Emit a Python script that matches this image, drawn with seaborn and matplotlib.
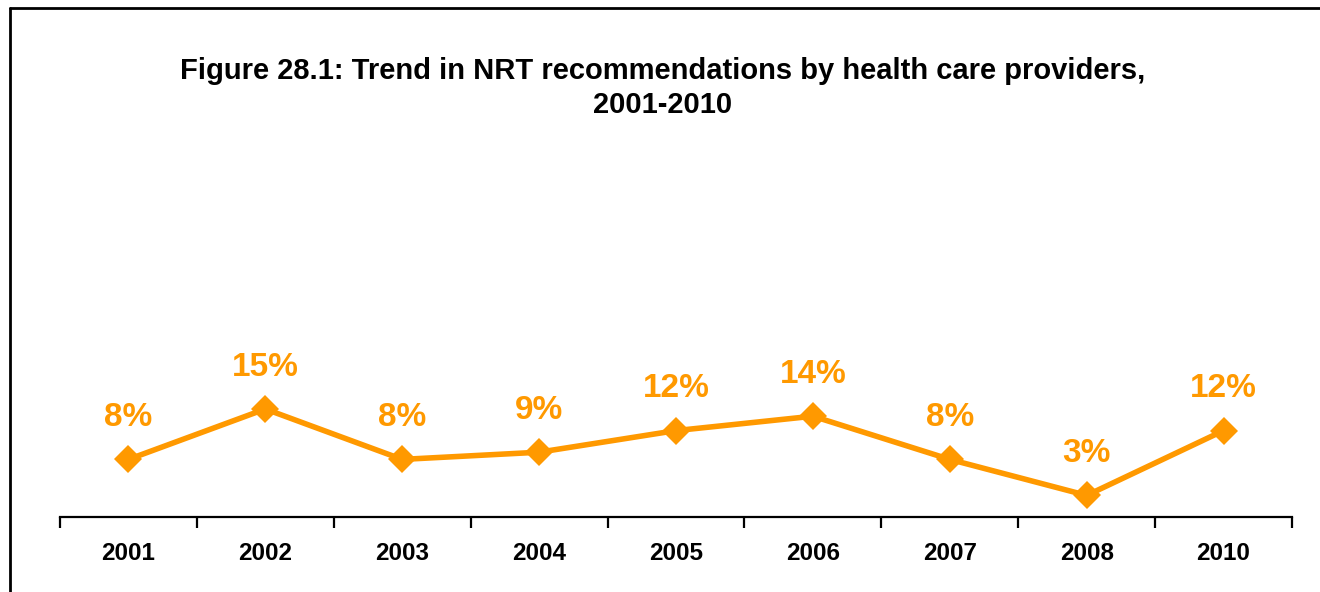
import matplotlib
matplotlib.use("Agg")
import matplotlib.pyplot as plt
import seaborn as sns
import numpy as np
import pandas as pd
from matplotlib.lines import Line2D

years = ["2001", "2002", "2003", "2004", "2005", "2006", "2007", "2008", "2010"]
nrt_pct = [8, 15, 8, 9, 12, 14, 8, 3, 12]

title = "Figure 28.1: Trend in NRT recommendations by health care providers,\n2001-2010"
orange = "#FF9900"

sns.set_theme(style="white")
plt.rcParams["font.family"] = ["Liberation Sans", "DejaVu Sans"]

df = pd.DataFrame({"year": years, "pct": nrt_pct})

fig = plt.figure(figsize=(13.2, 5.92), dpi=100)
ax = fig.add_axes([60 / 1320, 75 / 592, 1232 / 1320, 360 / 592])

sns.lineplot(data=df, x="year", y="pct", ax=ax, color=orange, linewidth=4,
             marker="D", markersize=14, markeredgewidth=0, sort=False)

for i, v in enumerate(nrt_pct):
    ax.annotate(f"{v}%", (i, v), xytext=(0, 24), textcoords="offset points",
                ha="center", va="baseline", color=orange, fontsize=24,
                fontweight="bold")

ax.set_ylim(0, 50)
ax.set_xlim(-0.5, len(years) - 0.5)
ax.set_xlabel("")
ax.set_ylabel("")
ax.set_yticks([])

# category labels centred, tick marks between categories
ax.set_xticks(range(len(years)))
ax.set_xticklabels(years, fontsize=17.5, fontweight="bold", color="black")
ax.set_xticks(np.arange(-0.5, len(years)), minor=True)
ax.tick_params(axis="x", which="major", length=0, pad=18)
ax.tick_params(axis="x", which="minor", length=8, width=1.6, color="black",
               direction="out", bottom=True)

for side in ["top", "right", "left"]:
    ax.spines[side].set_visible(False)
ax.spines["bottom"].set_color("black")
ax.spines["bottom"].set_linewidth(1.6)

fig.text(663 / 1320, 1 - 88 / 592, title, ha="center", va="center",
         fontsize=21, fontweight="bold", linespacing=1.25, color="black")

# outer frame (top and left edges)
fig.add_artist(Line2D([10 / 1320, 10 / 1320], [0, 1 - 8 / 592],
                      transform=fig.transFigure, color="black", linewidth=2))
fig.add_artist(Line2D([10 / 1320, 1], [1 - 8 / 592, 1 - 8 / 592],
                      transform=fig.transFigure, color="black", linewidth=2))

fig.savefig("out.png", dpi=100, facecolor="white")
